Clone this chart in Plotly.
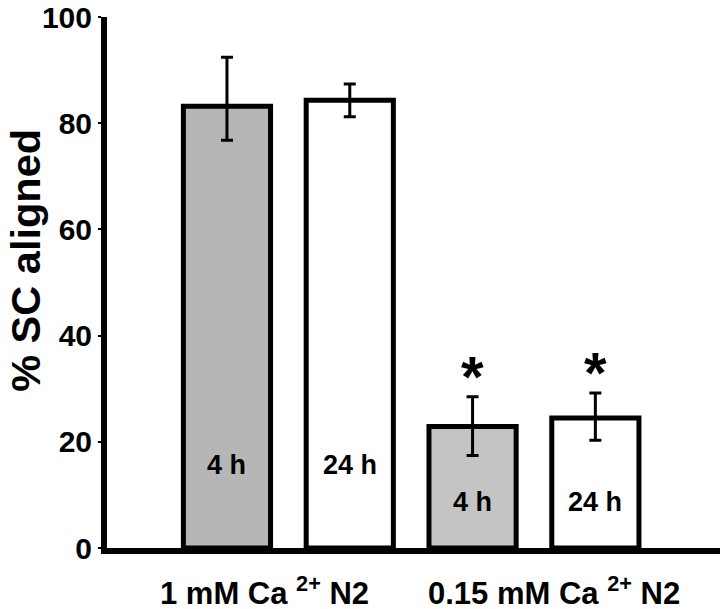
import plotly.graph_objects as go

# ---- data ----
bar_ids = ["1mM_4h", "1mM_24h", "0.15mM_4h", "0.15mM_24h"]
values = [83.2, 84.3, 22.9, 24.5]
err_plus = [9.2, 3.1, 5.6, 4.7]
err_minus = [6.4, 3.1, 5.5, 4.2]
bar_labels = ["4 h", "24 h", "4 h", "24 h"]
significant = [False, False, True, True]
group_labels = ["1 mM Ca <sup>2+</sup> N2", "0.15 mM Ca <sup>2+</sup> N2"]
y_ticks = [0, 20, 40, 60, 80, 100]

FONT = "Liberation Sans, Arial, Helvetica, sans-serif"
fills = ["#b6b6b6", "#ffffff", "#c4c4c4", "#ffffff"]

x_idx = list(range(len(values)))

fig = go.Figure()
fig.add_trace(go.Bar(
    x=x_idx, y=values, width=0.71,
    marker=dict(color=fills, line=dict(color="black", width=5)),
    error_y=dict(type="data", array=err_plus, arrayminus=err_minus,
                 symmetric=False, color="black", thickness=3, width=6),
    showlegend=False, hoverinfo="skip",
))

annotations = []
# labels inside bars
label_heights = [15.6, 15.6, 8.7, 8.7]
for i, (lab, ly) in enumerate(zip(bar_labels, label_heights)):
    annotations.append(dict(x=i, y=ly, xref="x", yref="y", text=lab, showarrow=False,
                            font=dict(family=FONT, size=27, color="black", weight="bold"),
                            xanchor="center", yanchor="middle"))
# significance asterisks
for i, sig in enumerate(significant):
    if sig:
        annotations.append(dict(x=i, y=values[i] + err_plus[i] + 3.8, xref="x", yref="y",
                                text="*", showarrow=False,
                                font=dict(family=FONT, size=58, color="black", weight="bold"),
                                xanchor="center", yanchor="middle"))
# group labels below axis
group_x = [0.305, 2.663]
for gx, gl in zip(group_x, group_labels):
    annotations.append(dict(x=gx, y=-0.081, xref="x", yref="paper", text=gl, showarrow=False,
                            font=dict(family=FONT, size=31, color="black", weight="bold"),
                            xanchor="center", yanchor="middle"))
# y-axis title
annotations.append(dict(x=-0.132, y=0.541, xref="paper", yref="paper", text="% SC aligned",
                        textangle=-90, showarrow=False,
                        font=dict(family=FONT, size=41.5, color="black", weight="bold"),
                        xanchor="center", yanchor="middle"))

fig.update_layout(
    width=720, height=609,
    margin=dict(l=107, r=0, t=12, b=61),
    paper_bgcolor="white", plot_bgcolor="white",
    annotations=annotations,
    xaxis=dict(range=[-0.977, 4.015], showticklabels=False, ticks="",
               showgrid=False, zeroline=False, showline=True, linecolor="black",
               linewidth=6, fixedrange=True),
    yaxis=dict(range=[0, 100], tickvals=y_ticks, ticktext=[str(v) for v in y_ticks],
               ticks="outside", ticklen=3, tickwidth=2, tickcolor="black",
               ticklabeloverflow="allow",
               tickfont=dict(family=FONT, size=30, color="black", weight="bold"),
               showgrid=False, zeroline=False, showline=True, linecolor="black",
               linewidth=6, fixedrange=True),
)

fig.write_html("out.html", config={"displayModeBar": False, "staticPlot": True},
               post_script="document.body.style.margin='0';document.body.style.padding='0';")
